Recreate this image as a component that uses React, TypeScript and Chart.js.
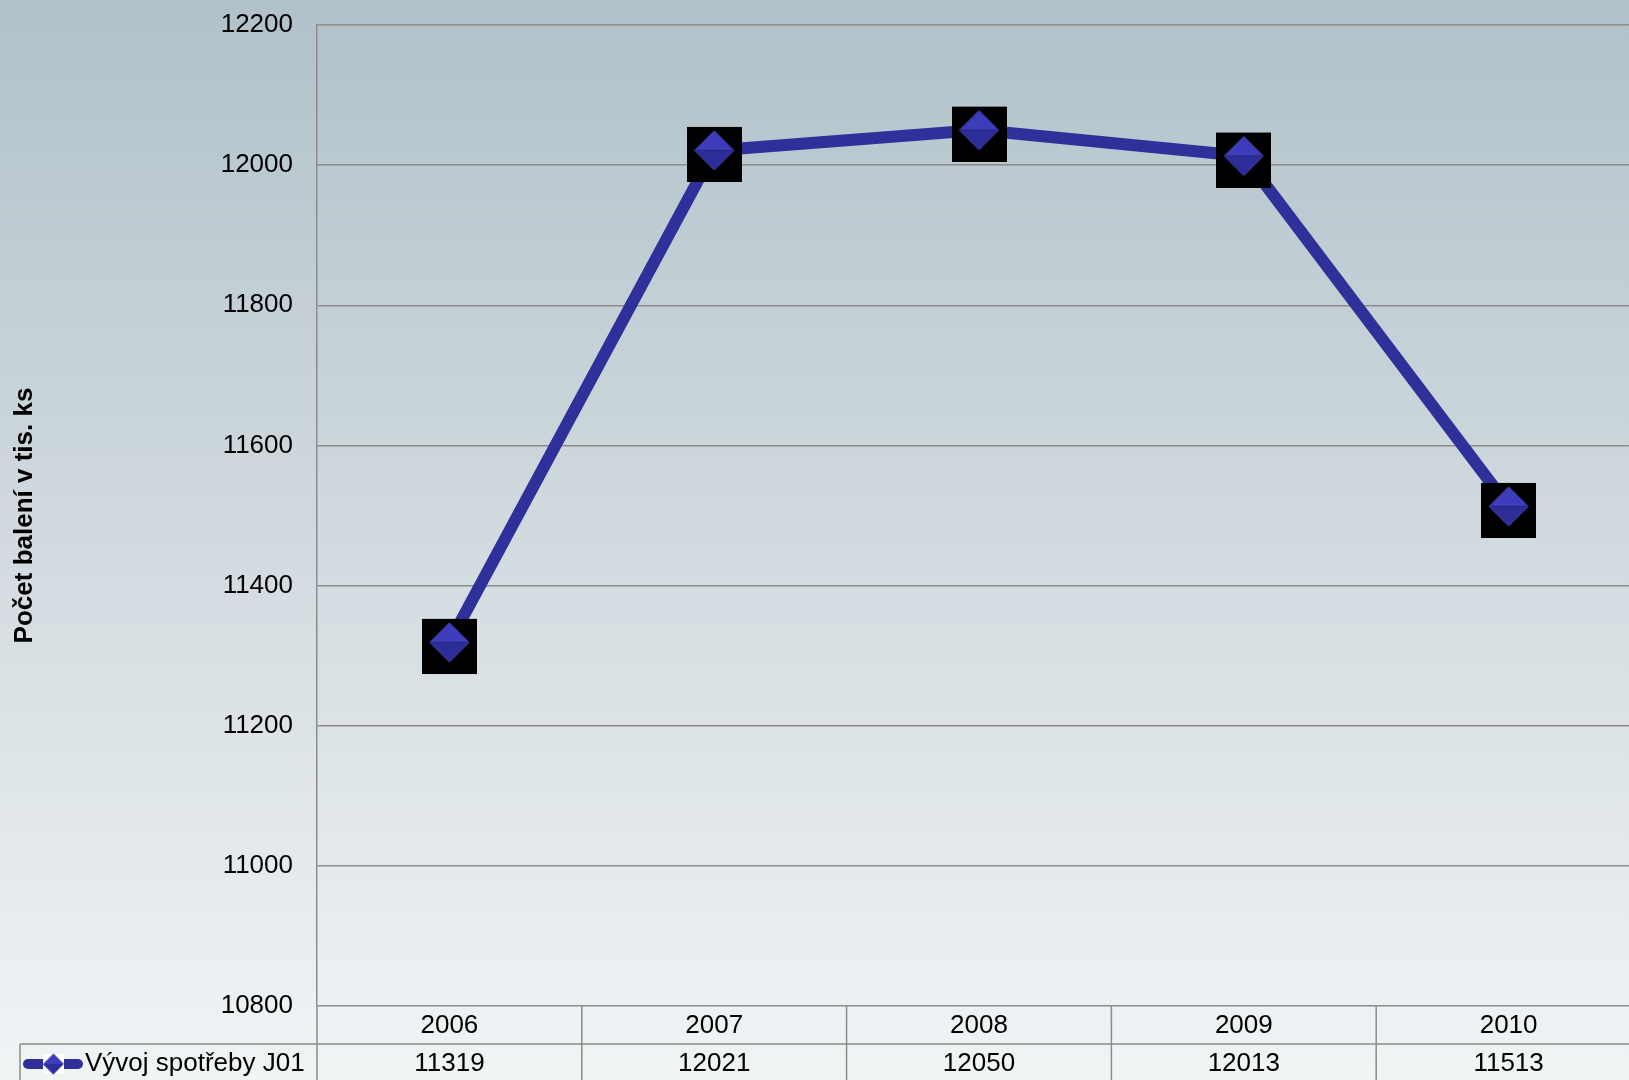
import React, { useEffect, useRef } from "react";
import { Chart, registerables } from "chart.js";

Chart.register(...registerables);

const years = ["2006", "2007", "2008", "2009", "2010"];
const consumption = [11319, 12021, 12050, 12013, 11513];
const seriesName = "Vývoj spotřeby J01";
const yTitle = "Počet balení v tis. ks";
const yMin = 10800;
const yMax = 12200;
const yStep = 200;

const FONT = "'Liberation Sans', Arial, sans-serif";
const GRID = "#8c8c8c";
const LINE = "#30309a";

function drawDiamond(ctx: CanvasRenderingContext2D, cx: number, cy: number, r: number) {
  ctx.beginPath();
  ctx.moveTo(cx - r, cy);
  ctx.lineTo(cx, cy - r);
  ctx.lineTo(cx + r, cy);
  ctx.closePath();
  ctx.fillStyle = "#3d3dbb";
  ctx.fill();
  ctx.beginPath();
  ctx.moveTo(cx - r, cy);
  ctx.lineTo(cx, cy + r);
  ctx.lineTo(cx + r, cy);
  ctx.closePath();
  ctx.fillStyle = "#2d2d99";
  ctx.fill();
  ctx.beginPath();
  ctx.moveTo(cx - r, cy);
  ctx.lineTo(cx, cy - r);
  ctx.lineTo(cx + r, cy);
  ctx.lineTo(cx, cy + r);
  ctx.closePath();
  ctx.lineWidth = 1;
  ctx.strokeStyle = "#4b4bc4";
  ctx.stroke();
}

function makeMarker(): HTMLCanvasElement {
  const c = document.createElement("canvas");
  c.width = 55;
  c.height = 63;
  const ctx = c.getContext("2d")!;
  ctx.fillStyle = "#000000";
  ctx.fillRect(0, 8, 55, 55);
  drawDiamond(ctx, 27.5, 31.5, 19.5);
  return c;
}

export default function App() {
  const ref = useRef<HTMLCanvasElement | null>(null);

  useEffect(() => {
    const canvas = ref.current!;
    const marker = makeMarker();

    const bgPlugin = {
      id: "bg",
      beforeDraw(chart: any) {
        const { ctx, width, height } = chart;
        const g = ctx.createLinearGradient(0, 0, 0, height);
        g.addColorStop(0, "#b1c1c9");
        g.addColorStop(1, "#f1f4f5");
        ctx.save();
        ctx.fillStyle = g;
        ctx.fillRect(0, 0, width, height);
        ctx.restore();
      },
    };

    const tablePlugin = {
      id: "table",
      afterDraw(chart: any) {
        const { ctx, chartArea, width, height } = chart;
        const x = chart.scales.x;
        const b = chartArea.bottom;
        const colW = (chartArea.right - chartArea.left) / years.length;
        const rowSep = b + 38;
        const yearY = b + 20;
        const valY = b + 58;
        ctx.save();
        ctx.strokeStyle = GRID;
        ctx.lineWidth = 1.5;
        ctx.beginPath();
        ctx.moveTo(chartArea.left, b);
        ctx.lineTo(chartArea.left, height);
        for (let i = 1; i <= years.length; i++) {
          const xx = chartArea.left + i * colW;
          ctx.moveTo(xx, b);
          ctx.lineTo(xx, height);
        }
        ctx.moveTo(20, rowSep);
        ctx.lineTo(width, rowSep);
        ctx.moveTo(20, rowSep);
        ctx.lineTo(20, height);
        ctx.stroke();

        ctx.fillStyle = "#000000";
        ctx.font = `26px ${FONT}`;
        ctx.textAlign = "center";
        ctx.textBaseline = "middle";
        years.forEach((yr, i) => {
          const cx = x.getPixelForValue(i);
          ctx.fillText(yr, cx, yearY);
          ctx.fillText(String(consumption[i]), cx, valY);
        });

        ctx.strokeStyle = LINE;
        ctx.lineWidth = 10;
        ctx.lineCap = "round";
        ctx.beginPath();
        ctx.moveTo(28, valY);
        ctx.lineTo(78, valY);
        ctx.stroke();
        ctx.fillStyle = "#ffffff";
        ctx.fillRect(43, valY - 10, 21, 20);
        drawDiamond(ctx, 53.5, valY, 10);
        ctx.fillStyle = "#000000";
        ctx.textAlign = "left";
        ctx.fillText(seriesName, 85, valY);
        ctx.restore();
      },
    };

    const chart = new Chart(canvas, {
      type: "line",
      data: {
        labels: years,
        datasets: [
          {
            label: seriesName,
            data: consumption,
            borderColor: LINE,
            borderWidth: 12,
            tension: 0,
            pointStyle: marker as any,
            pointRadius: 28,
            pointHoverRadius: 28,
            borderCapStyle: "butt",
          },
        ],
      },
      options: {
        animation: false,
        responsive: false,
        maintainAspectRatio: false,
        layout: { autoPadding: false, padding: { top: 25, bottom: 74, left: 0, right: 0 } },
        plugins: {
          legend: { display: false },
          tooltip: { enabled: false },
          title: { display: false },
        },
        scales: {
          x: {
            display: false,
            offset: true,
          },
          y: {
            min: yMin,
            max: yMax,
            afterFit: (axis: any) => {
              axis.width = 317;
              axis.paddingTop = 0;
              axis.paddingBottom = 0;
            },
            ticks: {
              stepSize: yStep,
              color: "#000000",
              padding: 24,
              font: { family: FONT, size: 26 },
              callback: (v: any) => String(v),
            },
            grid: {
              color: GRID,
              lineWidth: 1.5,
              drawTicks: false,
            },
            border: { display: true, color: GRID, width: 1.5 },
            title: {
              display: true,
              text: yTitle,
              color: "#000000",
              font: { family: FONT, size: 26, weight: "bold" },
              padding: { top: 9, bottom: 0 },
            },
          },
        },
      },
      plugins: [bgPlugin, tablePlugin],
    });

    return () => chart.destroy();
  }, []);

  return (
    <div
      style={{
        position: "fixed",
        left: 0,
        top: 0,
        width: 1629,
        height: 1080,
        overflow: "hidden",
      }}
    >
      <canvas ref={ref} width={1641} height={1080} style={{ display: "block", width: 1641, height: 1080 }} />
    </div>
  );
}
